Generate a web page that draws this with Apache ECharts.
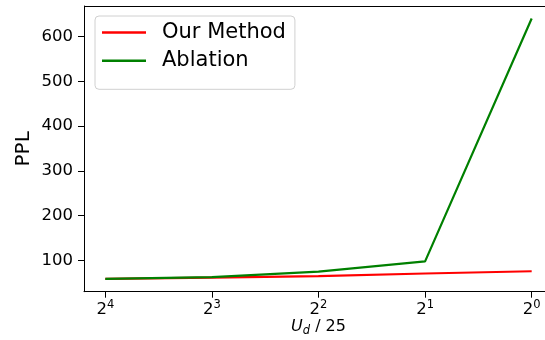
<!DOCTYPE html>
<html>
<head>
<meta charset="utf-8">
<script src="https://cdn.jsdelivr.net/npm/echarts@6/dist/echarts.min.js"></script>
<style>html,body{margin:0;padding:0;background:#fff}#c{width:545px;height:340px}</style>
</head>
<body>
<div id="c"></div>
<script>
// Data
const exponents = [4, 3, 2, 1, 0];            // x ticks: 2^4 ... 2^0
const ourMethod = [59, 62, 65, 71, 76];
const ablation  = [59, 63, 75, 98, 640];
const yTicks = [100, 200, 300, 400, 500, 600];
const seriesNames = ['Our Method', 'Ablation'];

const FONT = 'DejaVu Sans';

const chart = echarts.init(document.getElementById('c'), null, {renderer: 'canvas'});
chart.setOption({
  animation: false,
  backgroundColor: '#ffffff',
  textStyle: {fontFamily: FONT},
  grid: {left: 84, top: 6, width: 469, height: 285.7, containLabel: false, outerBoundsMode: 'none'},
  legend: {
    orient: 'vertical',
    left: 95, top: 16,
    padding: [6, 9, 18, 7],
    itemGap: 7.3,
    itemWidth: 44, itemHeight: 2.5,
    icon: 'rect',
    backgroundColor: '#ffffff',
    borderColor: '#d0d0d0', borderWidth: 1, borderRadius: 4,
    textStyle: {fontFamily: FONT, fontSize: 21, lineHeight: 21, color: '#000', padding: [0, 0, 0, 11]},
    data: seriesNames
  },
  xAxis: {
    type: 'value',
    inverse: true,
    min: -0.2, max: 4.2,
    splitLine: {show: false},
    axisLine: {onZero: false, lineStyle: {color: '#000', width: 1}},
    axisTick: {show: true, length: 6, lineStyle: {color: '#000', width: 1}, customValues: exponents},
    axisLabel: {
      customValues: exponents,
      margin: 7,
      color: '#000',
      formatter: v => '{b|2}{s|' + Math.round(v) + '}',
      rich: {
        b: {fontFamily: FONT, fontSize: 16.5, color: '#000', verticalAlign: 'bottom'},
        s: {fontFamily: FONT, fontSize: 11.5, color: '#000', padding: [0, 0, 8, 0], verticalAlign: 'bottom'}
      }
    },
    name: '{i|U}{s|d}{n| / 25}',
    nameLocation: 'middle',
    nameGap: 26,
    nameMoveOverlap: false,
    nameTextStyle: {
      rich: {
        i: {fontFamily: FONT, fontStyle: 'italic', fontSize: 16, color: '#000'},
        s: {fontFamily: FONT, fontStyle: 'italic', fontSize: 11.5, color: '#000', padding: [7, 0, 0, 0]},
        n: {fontFamily: FONT, fontSize: 16, color: '#000'}
      }
    }
  },
  yAxis: {
    type: 'value',
    position: 'left',
    min: 30.4, max: 668,
    splitLine: {show: false},
    axisLine: {show: true, onZero: false, lineStyle: {color: '#000', width: 1}},
    axisTick: {show: true, length: 6, lineStyle: {color: '#000', width: 1}, customValues: yTicks},
    axisLabel: {customValues: yTicks, margin: 11, fontFamily: FONT, fontSize: 16.5, color: '#000'},
    name: 'PPL',
    nameLocation: 'middle',
    nameRotate: 90,
    nameGap: 50,
    nameMoveOverlap: false,
    nameTextStyle: {fontFamily: FONT, fontSize: 20, color: '#000'}
  },
  series: [
    {
      name: seriesNames[0], type: 'line', symbol: 'none',
      data: exponents.map((e, i) => [e, ourMethod[i]]),
      lineStyle: {color: '#ff0000', width: 2.2}, itemStyle: {color: '#ff0000'}, z: 2
    },
    {
      name: seriesNames[1], type: 'line', symbol: 'none',
      data: exponents.map((e, i) => [e, ablation[i]]),
      lineStyle: {color: '#008000', width: 2.2}, itemStyle: {color: '#008000'}, z: 3
    }
  ]
});
// top spine (matplotlib frame); right spine lies outside the cropped view
chart.setOption({
  graphic: [{
    type: 'line', shape: {x1: 84, y1: 6.5, x2: 545, y2: 6.5},
    style: {stroke: '#000', lineWidth: 1}, z: 10
  }]
});
</script>
</body>
</html>
